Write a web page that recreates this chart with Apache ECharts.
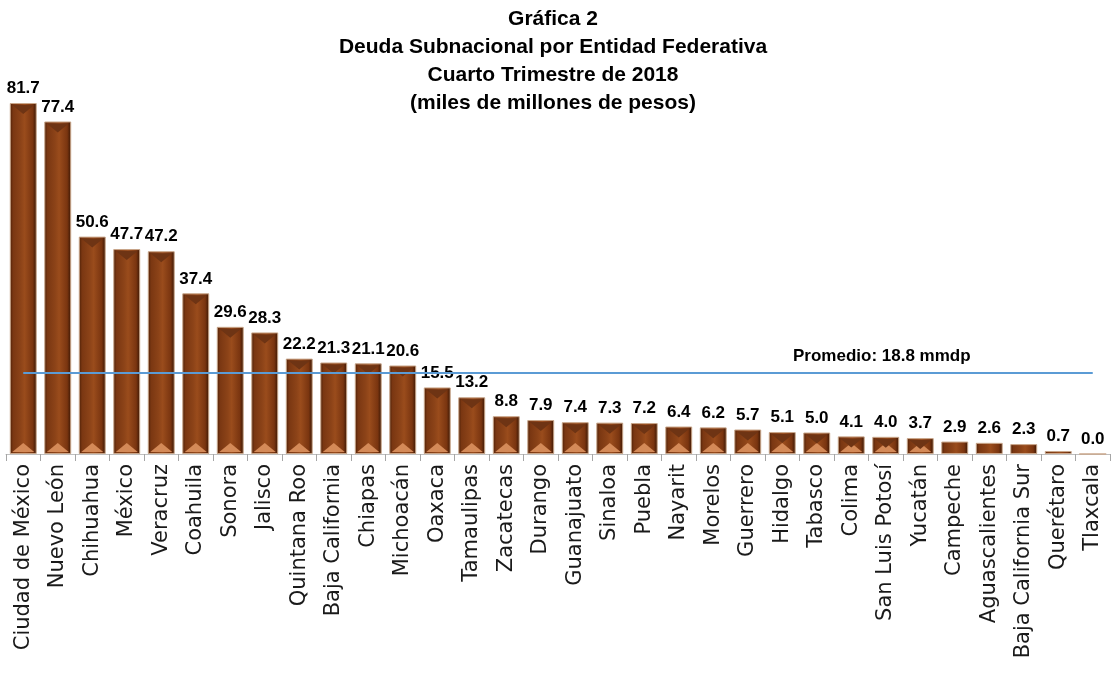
<!DOCTYPE html>
<html>
<head>
<meta charset="utf-8">
<script src="https://cdn.jsdelivr.net/npm/echarts@6/dist/echarts.min.js"></script>
<style>
  html, body { margin: 0; padding: 0; background: #fff; }
  #main { width: 1111px; height: 677px; }
</style>
</head>
<body>
<div id="main"></div>
<script>
// datos de la gráfica
var estados = ['Ciudad de México', 'Nuevo León', 'Chihuahua', 'México', 'Veracruz', 'Coahuila', 'Sonora', 'Jalisco',
  'Quintana Roo', 'Baja California', 'Chiapas', 'Michoacán', 'Oaxaca', 'Tamaulipas', 'Zacatecas', 'Durango',
  'Guanajuato', 'Sinaloa', 'Puebla', 'Nayarit', 'Morelos', 'Guerrero', 'Hidalgo', 'Tabasco', 'Colima',
  'San Luis Potosí', 'Yucatán', 'Campeche', 'Aguascalientes', 'Baja California Sur', 'Querétaro', 'Tlaxcala'];
var deuda = [81.7, 77.4, 50.6, 47.7, 47.2, 37.4, 29.6, 28.3, 22.2, 21.3, 21.1, 20.6, 15.5, 13.2, 8.8, 7.9,
  7.4, 7.3, 7.2, 6.4, 6.2, 5.7, 5.1, 5.0, 4.1, 4.0, 3.7, 2.9, 2.6, 2.3, 0.7, 0.0];
var promedio = 18.8;
var titulo = 'Gráfica 2\nDeuda Subnacional por Entidad Federativa\nCuarto Trimestre de 2018\n(miles de millones de pesos)';

var myChart = echarts.init(document.getElementById('main'));

// triángulos del bisel (solo en barras con altura suficiente)
var biselAbajo = deuda.map(function (v) {
  return { value: v, itemStyle: { opacity: v >= 3 ? 1 : 0 } };
});
var biselArriba = deuda.map(function (v) {
  return { value: v, itemStyle: { opacity: v >= 3 ? 1 : 0 } };
});

var option = {
  animation: false,
  title: {
    text: titulo,
    left: 548,
    textAlign: 'center',
    top: 0,
    textStyle: {
      fontFamily: 'Liberation Sans',
      fontWeight: 'bold',
      fontSize: 21,
      lineHeight: 28,
      color: '#000'
    }
  },
  grid: {
    left: 6,
    right: 1,
    top: 103,
    bottom: 223,
    containLabel: false
  },
  xAxis: {
    type: 'category',
    data: estados,
    axisLine: { lineStyle: { color: '#bfbfbf' } },
    axisTick: { show: true, length: 7, lineStyle: { color: '#a6a6a6' } },
    axisLabel: {
      rotate: 90,
      interval: 0,
      margin: 10,
      fontFamily: 'DejaVu Sans',
      fontSize: 21,
      color: '#1a1a1a'
    }
  },
  yAxis: {
    type: 'value',
    min: 0,
    max: 81.7,
    show: false,
    splitLine: { show: false }
  },
  series: [
    {
      type: 'bar',
      data: deuda,
      barCategoryGap: '22%',
      itemStyle: {
        borderColor: '#c9a68a',
        borderWidth: 1,
        color: new echarts.graphic.LinearGradient(0, 0, 1, 0, [
          { offset: 0, color: '#4a1e06' },
          { offset: 0.12, color: '#7a3712' },
          { offset: 0.4, color: '#8c4318' },
          { offset: 0.55, color: '#9a4c1c' },
          { offset: 0.85, color: '#7a3510' },
          { offset: 0.92, color: '#5a260a' },
          { offset: 1, color: '#3a1604' }
        ])
      },
      label: {
        show: true,
        position: 'top',
        distance: 6,
        fontFamily: 'Liberation Sans',
        fontWeight: 'bold',
        fontSize: 17,
        color: '#000',
        formatter: function (p) { return p.value.toFixed(1); }
      },
      markLine: {
        silent: true,
        symbol: 'none',
        lineStyle: { color: '#5b9bd5', width: 2, type: 'solid' },
        label: { show: false },
        data: [[
          { coord: [0, promedio] },
          { coord: [estados.length - 1, promedio] }
        ]]
      },
      z: 2
    },
    {
      type: 'pictorialBar',
      data: biselAbajo,
      symbol: 'triangle',
      symbolSize: [22, 9],
      symbolPosition: 'start',
      symbolOffset: [0, -2],
      barGap: '-100%',
      itemStyle: { color: '#d48a58' },
      z: 3
    },
    {
      type: 'pictorialBar',
      data: biselArriba,
      symbol: 'triangle',
      symbolRotate: 180,
      symbolSize: [22, 9],
      symbolPosition: 'end',
      symbolOffset: [0, 2],
      barGap: '-100%',
      itemStyle: { color: '#6e3414' },
      z: 3
    }
  ],
  graphic: [{
    type: 'text',
    left: 793,
    top: 348,
    style: {
      text: 'Promedio: ' + promedio.toFixed(1) + ' mmdp',
      font: 'bold 17px "Liberation Sans"',
      fill: '#000'
    }
  }]
};

option && myChart.setOption(option);
</script>
</body>
</html>
